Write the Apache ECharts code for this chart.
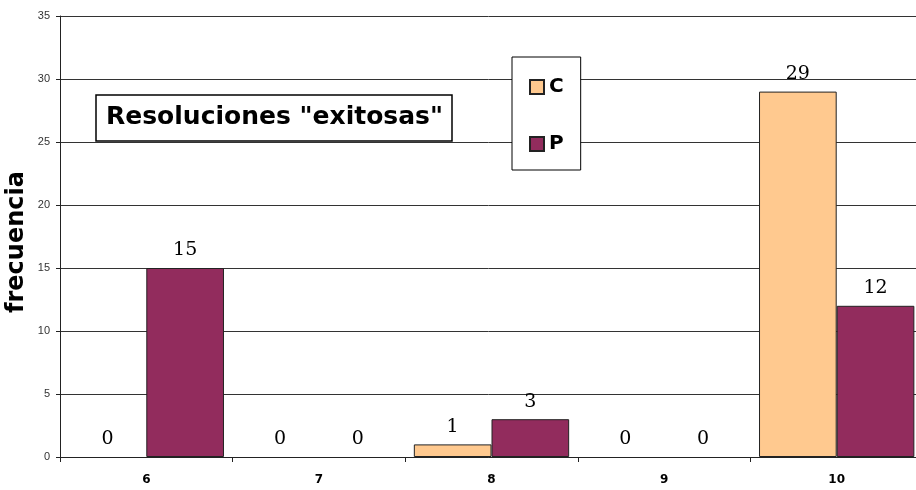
<!DOCTYPE html>
<html>
<head>
<meta charset="utf-8">
<style>
  html, body { margin: 0; padding: 0; background: #fff; }
  #chart { width: 916px; height: 490px; }
</style>
<script src="https://cdn.jsdelivr.net/npm/echarts@6/dist/echarts.min.js"></script>
</head>
<body>
<div id="chart"></div>
<script>
// Frequencies of "successful" resolutions per score, groups C and P
const categories = ['6', '7', '8', '9', '10'];
const seriesC = [0, 0, 1, 0, 29];
const seriesP = [15, 0, 3, 0, 12];
const yTicks = { min: 0, max: 35, interval: 5 };
const yTitle = 'frecuencia';

const chart = echarts.init(document.getElementById('chart'));

const labelStyle = {
  show: true,
  position: 'top',
  distance: 8,
  fontFamily: 'DejaVu Serif',
  fontSize: 19,
  color: '#000'
};

// zero-height bars get no outline, only their "0" label
const toItems = vals => vals.map(v => v === 0
  ? { value: v, itemStyle: { borderWidth: 0, color: 'transparent' } }
  : v);

chart.setOption({
  animation: false,
  backgroundColor: '#fff',
  title: {
    text: 'Resoluciones "exitosas"',
    left: 96,
    top: 95,
    padding: [10, 9, 11, 10],
    backgroundColor: '#fff',
    borderColor: '#000',
    borderWidth: 1.5,
    textStyle: {
      fontFamily: 'DejaVu Sans',
      fontWeight: 'bold',
      fontSize: 25,
      color: '#000'
    }
  },
  // vertical axis title, set a little below the plot's middle
  graphic: [{
    type: 'text',
    x: 17,
    y: 242,
    rotation: Math.PI / 2,
    style: {
      text: yTitle,
      fontFamily: 'DejaVu Sans',
      fontWeight: 'bold',
      fontSize: 24,
      fill: '#000',
      align: 'center',
      verticalAlign: 'middle'
    }
  }],
  legend: {
    orient: 'vertical',
    left: 512,
    top: 57,
    padding: [20, 17, 16, 17],
    itemGap: 37,
    itemWidth: 14,
    itemHeight: 14,
    icon: 'rect',
    backgroundColor: '#fff',
    borderColor: '#000',
    borderWidth: 1,
    borderRadius: 0,
    textStyle: {
      fontFamily: 'DejaVu Sans',
      fontWeight: 'bold',
      fontSize: 20,
      lineHeight: 14,
      color: '#000'
    },
    data: ['C', 'P']
  },
  grid: {
    left: 60,
    top: 16,
    width: 863,
    bottom: 33,
    containLabel: false,
    outerBoundsMode: 'none'
  },
  xAxis: {
    type: 'category',
    data: categories,
    axisLine: { lineStyle: { color: '#222', width: 1 } },
    axisTick: { show: true, length: 5, lineStyle: { color: '#222' } },
    axisLabel: {
      margin: 17,
      fontFamily: 'DejaVu Sans',
      fontWeight: 'bold',
      fontSize: 12,
      color: '#000'
    },
    splitLine: { show: false }
  },
  yAxis: {
    type: 'value',
    min: yTicks.min,
    max: yTicks.max,
    interval: yTicks.interval,
    axisLine: { show: true, lineStyle: { color: '#222', width: 1 } },
    axisTick: { show: true, length: 4, lineStyle: { color: '#222' } },
    axisLabel: {
      margin: 10,
      fontFamily: 'Liberation Sans',
      fontSize: 11,
      color: '#333'
    },
    splitLine: { show: true, lineStyle: { color: '#333', width: 1 } }
  },
  series: [
    {
      name: 'C',
      type: 'bar',
      data: toItems(seriesC),
      barGap: '0%',
      barCategoryGap: '10%',
      itemStyle: { color: '#FFC98F', borderColor: '#222', borderWidth: 1 },
      label: labelStyle
    },
    {
      name: 'P',
      type: 'bar',
      data: toItems(seriesP),
      barGap: '0%',
      barCategoryGap: '10%',
      itemStyle: { color: '#922C5D', borderColor: '#222', borderWidth: 1 },
      label: labelStyle
    }
  ]
});
</script>
</body>
</html>
